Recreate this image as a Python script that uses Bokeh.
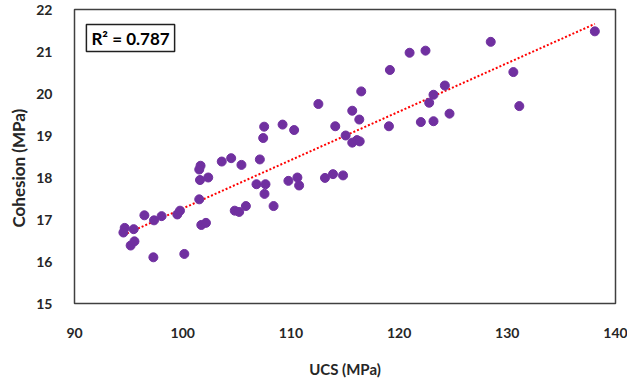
import numpy as np
from bokeh.plotting import figure
from bokeh.models import Range1d, FixedTicker, Label, Title, ColumnDataSource
from bokeh.embed import file_html
from bokeh.resources import INLINE

# Data
ucs = [94.64, 94.52, 95.47, 95.19, 95.54, 97.29, 100.15, 96.46, 97.35, 98.05,
       99.50, 99.75, 101.53, 101.72, 102.15, 101.65, 101.53, 101.60, 102.36, 103.61,
       104.48, 105.43, 104.81, 105.22, 105.84, 106.82, 107.65, 107.56, 107.13, 107.53,
       107.44, 109.23, 110.30, 108.40, 109.77, 110.60, 110.76, 113.15, 113.89, 114.82,
       112.54, 114.10, 115.06, 115.67, 116.11, 116.36, 115.67, 116.32, 116.50, 119.15,
       119.06, 120.97, 122.44, 122.01, 122.78, 123.18, 123.18, 124.23, 124.66, 128.47,
       130.56, 131.11, 138.09]
cohesion = [16.80, 16.69, 16.77, 16.38, 16.48, 16.10, 16.18, 17.10, 16.98, 17.08,
            17.12, 17.21, 17.48, 16.87, 16.92, 18.28, 18.19, 17.94, 18.00, 18.38,
            18.46, 18.30, 17.21, 17.18, 17.32, 17.84, 17.84, 17.61, 18.43, 19.21,
            18.94, 19.26, 19.13, 17.32, 17.92, 18.00, 17.81, 17.99, 18.08, 18.05,
            19.75, 19.22, 19.00, 18.83, 18.89, 18.86, 19.59, 19.38, 20.05, 20.56,
            19.22, 20.97, 21.02, 19.32, 19.78, 19.97, 19.34, 20.19, 19.52, 21.23,
            20.51, 19.70, 21.48]
x_ticks = [90, 100, 110, 120, 130, 140]
y_ticks = [15, 16, 17, 18, 19, 20, 21, 22]
r2_text = "R\u00b2 = 0.787"
x_title = "UCS (MPa)"
y_title = "Cohesion (MPa)"

FONT = "Lato"
TXT = "#262626"

p = figure(frame_width=541, frame_height=294, output_backend="svg",
           toolbar_location=None, x_range=Range1d(90, 140), y_range=Range1d(15, 22),
           min_border_left=0, min_border_right=14, min_border_top=9, min_border_bottom=0)
p.background_fill_color = "white"
p.border_fill_color = "white"
p.outline_line_color = "#404040"
p.outline_line_width = 1.5
p.xgrid.visible = False
p.ygrid.visible = False

for ax, ticks in ((p.xaxis, x_ticks), (p.yaxis, y_ticks)):
    ax.ticker = FixedTicker(ticks=ticks)
    ax.axis_line_color = None
    ax.major_tick_line_color = None
    ax.minor_tick_line_color = None
    ax.major_label_text_font = FONT
    ax.major_label_text_font_style = "bold"
    ax.major_label_text_font_size = "14px"
    ax.major_label_text_color = TXT
    ax.axis_label_text_font = FONT
    ax.axis_label_text_font_style = "bold"
    ax.axis_label_text_color = TXT

p.xaxis.axis_label = x_title
p.xaxis.axis_label_text_font_size = "15px"
p.xaxis.major_label_standoff = 18
p.xaxis.axis_label_standoff = 19
p.yaxis.major_label_standoff = 16

# y-axis title, placed below the frame centre as in the reference
ytitle = Title(text=y_title, align="left", offset=76, standoff=10,
               text_font=FONT, text_font_style="bold", text_font_size="17px",
               text_color=TXT)
p.add_layout(ytitle, "left")

# trend line (least squares fit of the data)
xs = np.array(ucs)
ys = np.array(cohesion)
m, b = np.polyfit(xs, ys, 1)
lx = [xs.min(), xs.max()]
ly = [m * v + b for v in lx]
p.line(lx, ly, line_color="#FF0000", line_width=2, line_dash="2 2")

src = ColumnDataSource(dict(x=ucs, y=cohesion))
p.scatter("x", "y", source=src, size=9, fill_color="#7030A0", line_color="#7030A0")

lab = Label(x=91.1, y=21.64, text=r2_text, anchor="top_left",
            text_font=FONT, text_font_style="bold", text_font_size="17px",
            text_color="black", border_line_color="#202020", border_line_width=1.5,
            background_fill_color="white",
            padding=dict(left=5, right=5, top=3, bottom=3))
p.add_layout(lab)

open("out.html", "w").write(file_html(p, INLINE))
